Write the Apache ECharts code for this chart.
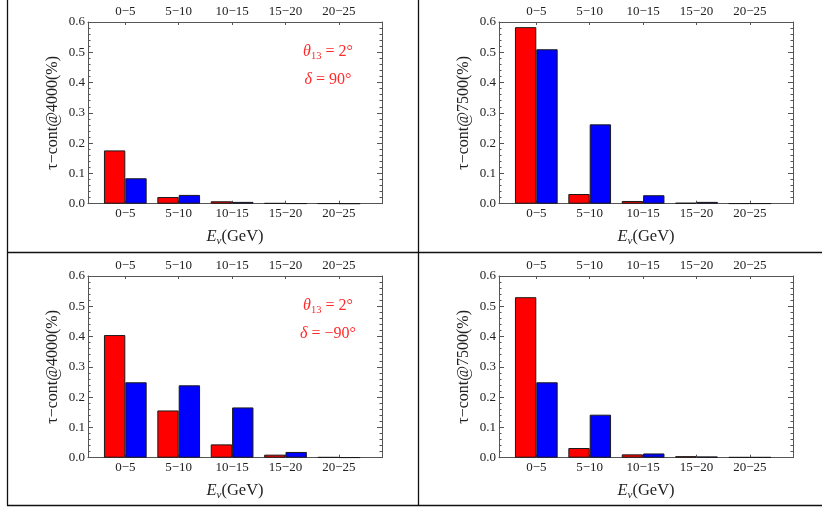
<!DOCTYPE html>
<html>
<head>
<meta charset="utf-8">
<script src="https://cdn.jsdelivr.net/npm/echarts@6/dist/echarts.min.js"></script>
<style>html,body{margin:0;padding:0;background:#fff;}#c{width:822px;height:508px;}</style>
</head>
<body>
<div id="c"></div>
<script>
const categories = ['0\u22125', '5\u221210', '10\u221215', '15\u221220', '20\u221225'];
const yMin = 0, yMax = 0.6, yStep = 0.1;
// panel 1: baseline 4000, delta = 90
const red4000p  = [0.176, 0.022, 0.008, 0.002, 0.001];
const blue4000p = [0.084, 0.029, 0.006, 0.001, 0.0005];
// panel 2: baseline 7500, delta = 90
const red7500p  = [0.583, 0.032, 0.009, 0.003, 0.001];
const blue7500p = [0.510, 0.262, 0.028, 0.006, 0.001];
// panel 3: baseline 4000, delta = -90
const red4000m  = [0.405, 0.156, 0.044, 0.010, 0.002];
const blue4000m = [0.249, 0.239, 0.166, 0.019, 0.001];
// panel 4: baseline 7500, delta = -90
const red7500m  = [0.530, 0.032, 0.011, 0.005, 0.002];
const blue7500m = [0.249, 0.142, 0.014, 0.004, 0.002];

const yNames = ['\u03c4\u2212cont@4000(%)', '\u03c4\u2212cont@7500(%)', '\u03c4\u2212cont@4000(%)', '\u03c4\u2212cont@7500(%)'];
const notes = [['2\u00b0', '90\u00b0'], null, ['2\u00b0', '\u221290\u00b0'], null];
const panelData = [[red4000p, blue4000p], [red7500p, blue7500p], [red4000m, blue4000m], [red7500m, blue7500m]];

const FONT = '"Liberation Serif", "DejaVu Serif", serif';
const TXT = '#222';
const AX = '#555';
const panels = [{l: 88, t: 22}, {l: 499, t: 22}, {l: 88, t: 276}, {l: 499, t: 276}];
const W = 294, H = 181.7, innerOff = 10.6, innerW = 267;

const grid = [], xAxis = [], yAxis = [], series = [], graphic = [];
panels.forEach((p, i) => {
  const fg = grid.length;
  grid.push({left: p.l, top: p.t, width: W, height: H, containLabel: false, outerBoundsMode: 'none', show: false});
  const bg = grid.length;
  grid.push({left: p.l + innerOff, top: p.t, width: innerW, height: H, containLabel: false, outerBoundsMode: 'none', show: false});
  // frame x axes
  ['bottom', 'top'].forEach((pos) => {
    const ax = {
      type: 'value', gridIndex: fg, position: pos, min: 0, max: 1,
      axisLine: {show: true, onZero: false, lineStyle: {color: AX, width: 1}},
      axisTick: {show: false}, axisLabel: {show: false}, splitLine: {show: false}
    };
    if (pos === 'bottom') {
      ax.name = '{i|E}{s|\u03bd}{n|(GeV)}';
      ax.nameLocation = 'middle';
      ax.nameGap = 23;
      ax.nameTextStyle = {
        rich: {
          i: {fontFamily: FONT, fontStyle: 'italic', fontSize: 16.5, color: TXT, lineHeight: 20},
          s: {fontFamily: FONT, fontStyle: 'italic', fontSize: 11, color: TXT, lineHeight: 11, verticalAlign: 'bottom'},
          n: {fontFamily: FONT, fontSize: 16.5, color: TXT, lineHeight: 20}
        }
      };
    }
    xAxis.push(ax);
  });
  // frame y axes
  ['left', 'right'].forEach((pos) => {
    const ax = {
      type: 'value', gridIndex: fg, position: pos, min: yMin, max: yMax, interval: yStep,
      axisLine: {show: true, onZero: false, lineStyle: {color: AX, width: 1}},
      axisTick: {show: true, inside: true, length: 5, lineStyle: {color: AX}},
      minorTick: {show: true, splitNumber: 5, length: 2.5, lineStyle: {color: AX}},
      splitLine: {show: false}, minorSplitLine: {show: false},
      axisLabel: {show: pos === 'left', margin: 3, fontFamily: FONT, fontSize: 13, color: TXT,
        formatter: (v) => v.toFixed(1)}
    };
    if (pos === 'left') {
      ax.name = yNames[i];
      ax.nameLocation = 'middle';
      ax.nameRotate = 90;
      ax.nameGap = 27;
      ax.nameTextStyle = {fontFamily: FONT, fontSize: 16, color: TXT};
    }
    yAxis.push(ax);
  });
  // bar grid axes
  const xb = xAxis.length;
  ['bottom', 'top'].forEach((pos) => {
    xAxis.push({
      type: 'category', gridIndex: bg, position: pos, data: categories,
      axisLine: {show: false},
      axisTick: {show: true, inside: true, length: 3, alignWithLabel: true, lineStyle: {color: AX}},
      axisLabel: {show: true, margin: pos === 'bottom' ? 3 : 4, fontFamily: FONT, fontSize: 13, color: TXT, interval: 0},
      splitLine: {show: false}
    });
  });
  const yb = yAxis.length;
  yAxis.push({type: 'value', gridIndex: bg, min: yMin, max: yMax, show: false, splitLine: {show: false}});
  const [rd, bl] = panelData[i];
  [[rd, '#ff0000'], [bl, '#0000ff']].forEach(([d, c]) => {
    series.push({
      type: 'bar', xAxisIndex: xb, yAxisIndex: yb, data: d,
      barGap: '0%', barCategoryGap: '20%',
      itemStyle: {color: c, borderColor: '#1a1a1a', borderWidth: 1},
      emphasis: {disabled: true}, animation: false, silent: true
    });
  });
  if (notes[i]) {
    const cx = p.l + 240;
    const rich = {
      it: {fontFamily: FONT, fontStyle: 'italic', fontSize: 16, fill: '#ff2a2a', lineHeight: 20},
      s: {fontFamily: FONT, fontSize: 10.5, fill: '#ff2a2a', lineHeight: 10.5, verticalAlign: 'bottom'},
      n: {fontFamily: FONT, fontSize: 16, fill: '#ff2a2a', lineHeight: 20}
    };
    graphic.push({type: 'text', x: cx, y: p.t + 30, silent: true,
      style: {text: '{it|\u03b8}{s|13}{n| = ' + notes[i][0] + '}', rich: rich, align: 'center', verticalAlign: 'middle'}});
    graphic.push({type: 'text', x: cx, y: p.t + 58, silent: true,
      style: {text: '{it|\u03b4}{n| = ' + notes[i][1] + '}', rich: rich, align: 'center', verticalAlign: 'middle'}});
  }
});

// panel separator lines
const LS = {stroke: '#111', lineWidth: 1.3};
graphic.push({type: 'line', silent: true, shape: {x1: 7.5, y1: 0, x2: 7.5, y2: 505.5}, style: LS});
graphic.push({type: 'line', silent: true, shape: {x1: 418.5, y1: 0, x2: 418.5, y2: 505.5}, style: LS});
graphic.push({type: 'line', silent: true, shape: {x1: 7, y1: 252.5, x2: 822, y2: 252.5}, style: LS});
graphic.push({type: 'line', silent: true, shape: {x1: 7, y1: 505.5, x2: 822, y2: 505.5}, style: LS});

const chart = echarts.init(document.getElementById('c'), null, {renderer: 'canvas'});
chart.setOption({animation: false, backgroundColor: '#fff', grid, xAxis, yAxis, series, graphic, tooltip: {show: false}});
</script>
</body>
</html>
